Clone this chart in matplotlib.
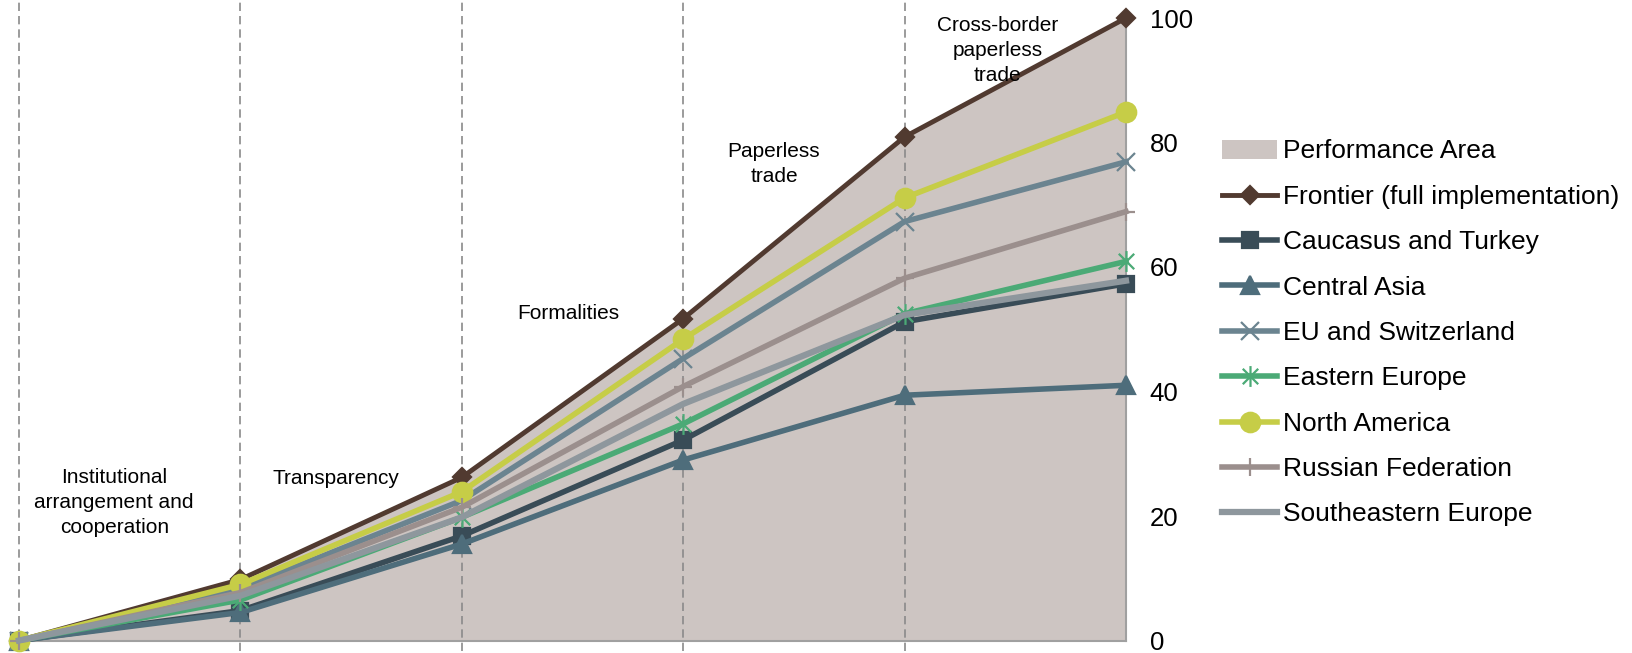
import matplotlib
matplotlib.use('Agg')
import matplotlib.pyplot as plt
from matplotlib.path import Path

plt.rcParams['font.family'] = ['Liberation Sans', 'DejaVu Sans']

# categories along x (implementation stages)
stages = [0, 1, 2, 3, 4, 5]
stage_names = ['Institutional\narrangement and\ncooperation', 'Transparency', 'Formalities',
               'Paperless\ntrade', 'Cross-border\npaperless\ntrade']

frontier = [0, 9.8, 26.2, 51.7, 80.9, 100]
caucasus_turkey = [0, 4.8, 16.8, 32.2, 51.2, 57.3]
central_asia = [0, 4.5, 15.5, 29.0, 39.4, 41.0]
eu_switzerland = [0, 8.3, 22.5, 45.3, 67.3, 76.9]
eastern_europe = [0, 6.5, 19.8, 34.8, 52.5, 60.9]
north_america = [0, 9.0, 23.9, 48.4, 71.1, 84.9]
russian_fed = [0, 7.7, 21.4, 40.8, 58.2, 68.9]
southeastern_europe = [0, 7.2, 19.8, 38.0, 52.3, 57.8]

yticks = [0, 20, 40, 60, 80, 100]

# excel style asterisk marker (x with vertical bar)
star = Path([(-1, -1), (1, 1), (-1, 1), (1, -1), (0, -1.35), (0, 1.35)],
            [Path.MOVETO, Path.LINETO] * 3)

fig = plt.figure(figsize=(16.33, 6.53), dpi=100)
ax = fig.add_axes([19 / 1633, 1 - 640.5 / 653, (1126 - 19) / 1633, 622.5 / 653])

ax.fill_between(stages, frontier, 0, color='#cdc5c2', lw=0, label='Performance Area', zorder=1)

for x in stages[:-1]:
    ax.axvline(x, ymin=-0.017, ymax=1.03, color='#8a8a8a', lw=1.2, dashes=(5, 3),
               clip_on=False, zorder=2)

series = [
    ('Frontier (full implementation)', frontier, '#513a30', 'D', 9.5, 3.5),
    ('Caucasus and Turkey', caucasus_turkey, '#394c57', 's', 12, 4.0),
    ('Central Asia', central_asia, '#4e6d7b', '^', 13, 4.0),
    ('EU and Switzerland', eu_switzerland, '#6b8490', 'x', 13, 4.0),
    ('Eastern Europe', eastern_europe, '#4baa76', star, 15, 4.0),
    ('North America', north_america, '#c6cd47', 'o', 14, 4.0),
    ('Russian Federation', russian_fed, '#9b8f8d', '+', 13, 4.0),
    ('Southeastern Europe', southeastern_europe, '#8e979d', None, 0, 4.5),
]

for i, (name, vals, col, mk, ms, lw) in enumerate(series):
    ax.plot(stages, vals, color=col, lw=lw, marker=mk, ms=ms, mew=1.6,
            mec=col, mfc=col, label=name, clip_on=False, zorder=3 + i)

label_pos = [(0.43, 22.1), (1.43, 26.1), (2.48, 52.5), (3.41, 76.6), (4.42, 94.7)]
for name, (tx, ty) in zip(stage_names, label_pos):
    ax.text(tx, ty, name, ha='center', va='center', fontsize=15,
            linespacing=1.4, zorder=20)

ax.set_xlim(0, 5)
ax.set_ylim(0, 100)
ax.yaxis.tick_right()
ax.set_yticks(yticks)
ax.tick_params(axis='y', length=0, pad=17, labelsize=18.5)
ax.set_xticks([])
ax.patch.set_alpha(0)
for s in ['top', 'left']:
    ax.spines[s].set_visible(False)
ax.spines['right'].set_color('#a0a0a0')
ax.spines['right'].set_linewidth(1.5)
ax.spines['bottom'].set_color('#a0a0a0')
ax.spines['bottom'].set_linewidth(1.5)

leg = fig.legend(loc='upper left', bbox_to_anchor=(1222 / 1633, 1 - 139.5 / 653),
                 frameon=False, fontsize=19, handlelength=2.1, handletextpad=0.2,
                 labelspacing=0.81, borderpad=0, borderaxespad=0)

fig.savefig('out.png', dpi=100)
